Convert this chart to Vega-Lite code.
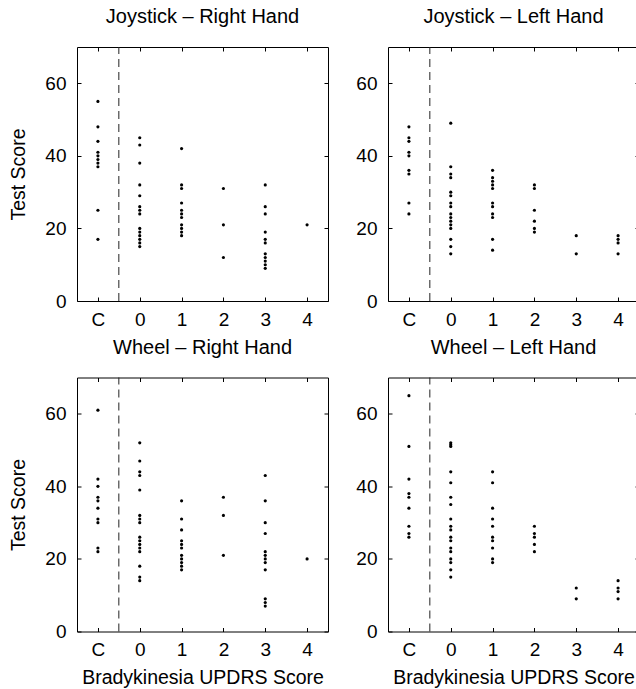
{
  "$schema": "https://vega.github.io/schema/vega-lite/v6.json",
  "padding": {"left": 8, "top": 6, "right": 0, "bottom": 0},
  "background": "white",
  "config": {
    "font": "Liberation Sans",
    "view": {"stroke": "black", "strokeWidth": 1},
    "axis": {"grid": false, "domain": false, "tickColor": "black", "tickSize": -4, "labelFontSize": 19, "labelColor": "black", "titleFontSize": 19.5, "titleFontWeight": "normal", "titleColor": "black"},
    "title": {"fontSize": 20, "fontWeight": "normal", "color": "black", "anchor": "middle", "baseline": "alphabetic", "offset": 19.5}
  },
  "datasets": {
    "scores": [
      {"p": "JR", "x": -1, "y": 55}, {"p": "JR", "x": -1, "y": 48}, {"p": "JR", "x": -1, "y": 44}, {"p": "JR", "x": -1, "y": 41}, {"p": "JR", "x": -1, "y": 40}, {"p": "JR", "x": -1, "y": 39}, {"p": "JR", "x": -1, "y": 38}, {"p": "JR", "x": -1, "y": 37}, {"p": "JR", "x": -1, "y": 25}, {"p": "JR", "x": -1, "y": 17},
      {"p": "JR", "x": 0, "y": 45}, {"p": "JR", "x": 0, "y": 43}, {"p": "JR", "x": 0, "y": 38}, {"p": "JR", "x": 0, "y": 32}, {"p": "JR", "x": 0, "y": 29}, {"p": "JR", "x": 0, "y": 26}, {"p": "JR", "x": 0, "y": 25}, {"p": "JR", "x": 0, "y": 24}, {"p": "JR", "x": 0, "y": 20}, {"p": "JR", "x": 0, "y": 19}, {"p": "JR", "x": 0, "y": 18}, {"p": "JR", "x": 0, "y": 17}, {"p": "JR", "x": 0, "y": 16}, {"p": "JR", "x": 0, "y": 15},
      {"p": "JR", "x": 1, "y": 42}, {"p": "JR", "x": 1, "y": 32}, {"p": "JR", "x": 1, "y": 31}, {"p": "JR", "x": 1, "y": 27}, {"p": "JR", "x": 1, "y": 25}, {"p": "JR", "x": 1, "y": 24}, {"p": "JR", "x": 1, "y": 23}, {"p": "JR", "x": 1, "y": 21}, {"p": "JR", "x": 1, "y": 20}, {"p": "JR", "x": 1, "y": 19}, {"p": "JR", "x": 1, "y": 18},
      {"p": "JR", "x": 2, "y": 31}, {"p": "JR", "x": 2, "y": 21}, {"p": "JR", "x": 2, "y": 12},
      {"p": "JR", "x": 3, "y": 32}, {"p": "JR", "x": 3, "y": 26}, {"p": "JR", "x": 3, "y": 24}, {"p": "JR", "x": 3, "y": 19}, {"p": "JR", "x": 3, "y": 17}, {"p": "JR", "x": 3, "y": 16}, {"p": "JR", "x": 3, "y": 13}, {"p": "JR", "x": 3, "y": 12}, {"p": "JR", "x": 3, "y": 11}, {"p": "JR", "x": 3, "y": 10}, {"p": "JR", "x": 3, "y": 9},
      {"p": "JR", "x": 4, "y": 21},
      {"p": "JL", "x": -1, "y": 48}, {"p": "JL", "x": -1, "y": 45}, {"p": "JL", "x": -1, "y": 44}, {"p": "JL", "x": -1, "y": 41}, {"p": "JL", "x": -1, "y": 40}, {"p": "JL", "x": -1, "y": 36}, {"p": "JL", "x": -1, "y": 35}, {"p": "JL", "x": -1, "y": 27}, {"p": "JL", "x": -1, "y": 24},
      {"p": "JL", "x": 0, "y": 49}, {"p": "JL", "x": 0, "y": 37}, {"p": "JL", "x": 0, "y": 35}, {"p": "JL", "x": 0, "y": 34}, {"p": "JL", "x": 0, "y": 30}, {"p": "JL", "x": 0, "y": 29}, {"p": "JL", "x": 0, "y": 27}, {"p": "JL", "x": 0, "y": 26}, {"p": "JL", "x": 0, "y": 24}, {"p": "JL", "x": 0, "y": 23}, {"p": "JL", "x": 0, "y": 22}, {"p": "JL", "x": 0, "y": 21}, {"p": "JL", "x": 0, "y": 20}, {"p": "JL", "x": 0, "y": 17}, {"p": "JL", "x": 0, "y": 15}, {"p": "JL", "x": 0, "y": 13},
      {"p": "JL", "x": 1, "y": 36}, {"p": "JL", "x": 1, "y": 34}, {"p": "JL", "x": 1, "y": 33}, {"p": "JL", "x": 1, "y": 32}, {"p": "JL", "x": 1, "y": 31}, {"p": "JL", "x": 1, "y": 27}, {"p": "JL", "x": 1, "y": 26}, {"p": "JL", "x": 1, "y": 24}, {"p": "JL", "x": 1, "y": 23}, {"p": "JL", "x": 1, "y": 17}, {"p": "JL", "x": 1, "y": 14},
      {"p": "JL", "x": 2, "y": 32}, {"p": "JL", "x": 2, "y": 31}, {"p": "JL", "x": 2, "y": 25}, {"p": "JL", "x": 2, "y": 22}, {"p": "JL", "x": 2, "y": 20}, {"p": "JL", "x": 2, "y": 19},
      {"p": "JL", "x": 3, "y": 18}, {"p": "JL", "x": 3, "y": 13},
      {"p": "JL", "x": 4, "y": 18}, {"p": "JL", "x": 4, "y": 17}, {"p": "JL", "x": 4, "y": 16}, {"p": "JL", "x": 4, "y": 13},
      {"p": "WR", "x": -1, "y": 61}, {"p": "WR", "x": -1, "y": 42}, {"p": "WR", "x": -1, "y": 40}, {"p": "WR", "x": -1, "y": 37}, {"p": "WR", "x": -1, "y": 36}, {"p": "WR", "x": -1, "y": 34}, {"p": "WR", "x": -1, "y": 31}, {"p": "WR", "x": -1, "y": 30}, {"p": "WR", "x": -1, "y": 23}, {"p": "WR", "x": -1, "y": 22},
      {"p": "WR", "x": 0, "y": 52}, {"p": "WR", "x": 0, "y": 47}, {"p": "WR", "x": 0, "y": 44}, {"p": "WR", "x": 0, "y": 43}, {"p": "WR", "x": 0, "y": 39}, {"p": "WR", "x": 0, "y": 32}, {"p": "WR", "x": 0, "y": 31}, {"p": "WR", "x": 0, "y": 30}, {"p": "WR", "x": 0, "y": 26}, {"p": "WR", "x": 0, "y": 25}, {"p": "WR", "x": 0, "y": 24}, {"p": "WR", "x": 0, "y": 23}, {"p": "WR", "x": 0, "y": 22}, {"p": "WR", "x": 0, "y": 18}, {"p": "WR", "x": 0, "y": 15}, {"p": "WR", "x": 0, "y": 14},
      {"p": "WR", "x": 1, "y": 36}, {"p": "WR", "x": 1, "y": 31}, {"p": "WR", "x": 1, "y": 28}, {"p": "WR", "x": 1, "y": 25}, {"p": "WR", "x": 1, "y": 24}, {"p": "WR", "x": 1, "y": 23}, {"p": "WR", "x": 1, "y": 21}, {"p": "WR", "x": 1, "y": 20}, {"p": "WR", "x": 1, "y": 19}, {"p": "WR", "x": 1, "y": 18}, {"p": "WR", "x": 1, "y": 17},
      {"p": "WR", "x": 2, "y": 37}, {"p": "WR", "x": 2, "y": 32}, {"p": "WR", "x": 2, "y": 21},
      {"p": "WR", "x": 3, "y": 43}, {"p": "WR", "x": 3, "y": 36}, {"p": "WR", "x": 3, "y": 30}, {"p": "WR", "x": 3, "y": 27}, {"p": "WR", "x": 3, "y": 22}, {"p": "WR", "x": 3, "y": 21}, {"p": "WR", "x": 3, "y": 20}, {"p": "WR", "x": 3, "y": 19}, {"p": "WR", "x": 3, "y": 17}, {"p": "WR", "x": 3, "y": 9}, {"p": "WR", "x": 3, "y": 8}, {"p": "WR", "x": 3, "y": 7},
      {"p": "WR", "x": 4, "y": 20},
      {"p": "WL", "x": -1, "y": 65}, {"p": "WL", "x": -1, "y": 51}, {"p": "WL", "x": -1, "y": 42}, {"p": "WL", "x": -1, "y": 38}, {"p": "WL", "x": -1, "y": 37}, {"p": "WL", "x": -1, "y": 34}, {"p": "WL", "x": -1, "y": 29}, {"p": "WL", "x": -1, "y": 27}, {"p": "WL", "x": -1, "y": 26},
      {"p": "WL", "x": 0, "y": 52}, {"p": "WL", "x": 0, "y": 51.5}, {"p": "WL", "x": 0, "y": 51}, {"p": "WL", "x": 0, "y": 44}, {"p": "WL", "x": 0, "y": 41}, {"p": "WL", "x": 0, "y": 37}, {"p": "WL", "x": 0, "y": 35}, {"p": "WL", "x": 0, "y": 31}, {"p": "WL", "x": 0, "y": 29}, {"p": "WL", "x": 0, "y": 28}, {"p": "WL", "x": 0, "y": 26}, {"p": "WL", "x": 0, "y": 25}, {"p": "WL", "x": 0, "y": 23}, {"p": "WL", "x": 0, "y": 22}, {"p": "WL", "x": 0, "y": 20}, {"p": "WL", "x": 0, "y": 19}, {"p": "WL", "x": 0, "y": 17}, {"p": "WL", "x": 0, "y": 15},
      {"p": "WL", "x": 1, "y": 44}, {"p": "WL", "x": 1, "y": 41}, {"p": "WL", "x": 1, "y": 34}, {"p": "WL", "x": 1, "y": 31}, {"p": "WL", "x": 1, "y": 29}, {"p": "WL", "x": 1, "y": 26}, {"p": "WL", "x": 1, "y": 25}, {"p": "WL", "x": 1, "y": 23}, {"p": "WL", "x": 1, "y": 20}, {"p": "WL", "x": 1, "y": 19},
      {"p": "WL", "x": 2, "y": 29}, {"p": "WL", "x": 2, "y": 27}, {"p": "WL", "x": 2, "y": 26}, {"p": "WL", "x": 2, "y": 24}, {"p": "WL", "x": 2, "y": 22},
      {"p": "WL", "x": 3, "y": 12}, {"p": "WL", "x": 3, "y": 9},
      {"p": "WL", "x": 4, "y": 14}, {"p": "WL", "x": 4, "y": 12}, {"p": "WL", "x": 4, "y": 11}, {"p": "WL", "x": 4, "y": 9}
    ]
  },
  "columns": 2,
  "bounds": "flush",
  "spacing": {"row": 76.5, "column": 60},
  "concat": [
    {
      "width": 251, "height": 254,
      "title": {"text": "Joystick – Right Hand"},
      "layer": [
        {"data": {"values": [{}]}, "mark": {"type": "rule", "strokeDash": [8, 5], "color": "#222222", "strokeWidth": 1},
         "encoding": {
           "x": {"datum": -0.5, "type": "quantitative", "axis": {"orient": "top", "values": [-1, 0, 1, 2, 3, 4], "labels": false, "title": null}},
           "y": {"datum": 0, "type": "quantitative", "axis": {"orient": "right", "values": [0, 20, 40, 60], "labels": false, "title": null}},
           "y2": {"datum": 70}}},
        {"data": {"name": "scores"}, "transform": [{"filter": "datum.p == 'JR'"}],
         "mark": {"type": "point", "filled": true, "size": 10, "color": "black", "opacity": 1},
         "encoding": {
           "x": {"field": "x", "type": "quantitative", "scale": {"domain": [-1.5, 4.5], "nice": false, "zero": false}, "axis": {"orient": "bottom", "values": [-1, 0, 1, 2, 3, 4], "labelExpr": "datum.value == -1 ? 'C' : datum.label", "labelPadding": 13, "title": null}},
           "y": {"field": "y", "type": "quantitative", "scale": {"domain": [0, 70], "nice": false}, "axis": {"orient": "left", "values": [0, 20, 40, 60], "labelPadding": 15, "title": "Test Score", "titlePadding": 16}}}}
      ],
      "resolve": {"axis": {"x": "independent", "y": "independent"}}
    },
    {
      "width": 251, "height": 254,
      "title": {"text": "Joystick – Left Hand"},
      "layer": [
        {"data": {"values": [{}]}, "mark": {"type": "rule", "strokeDash": [8, 5], "color": "#222222", "strokeWidth": 1},
         "encoding": {
           "x": {"datum": -0.5, "type": "quantitative", "axis": {"orient": "top", "values": [-1, 0, 1, 2, 3, 4], "labels": false, "title": null}},
           "y": {"datum": 0, "type": "quantitative", "axis": {"orient": "right", "values": [0, 20, 40, 60], "labels": false, "title": null}},
           "y2": {"datum": 70}}},
        {"data": {"name": "scores"}, "transform": [{"filter": "datum.p == 'JL'"}],
         "mark": {"type": "point", "filled": true, "size": 10, "color": "black", "opacity": 1},
         "encoding": {
           "x": {"field": "x", "type": "quantitative", "scale": {"domain": [-1.5, 4.5], "nice": false, "zero": false}, "axis": {"orient": "bottom", "values": [-1, 0, 1, 2, 3, 4], "labelExpr": "datum.value == -1 ? 'C' : datum.label", "labelPadding": 13, "title": null}},
           "y": {"field": "y", "type": "quantitative", "scale": {"domain": [0, 70], "nice": false}, "axis": {"orient": "left", "values": [0, 20, 40, 60], "labelPadding": 15, "title": null}}}}
      ],
      "resolve": {"axis": {"x": "independent", "y": "independent"}}
    },
    {
      "width": 251, "height": 254,
      "title": {"text": "Wheel – Right Hand"},
      "layer": [
        {"data": {"values": [{}]}, "mark": {"type": "rule", "strokeDash": [8, 5], "color": "#222222", "strokeWidth": 1},
         "encoding": {
           "x": {"datum": -0.5, "type": "quantitative", "axis": {"orient": "top", "values": [-1, 0, 1, 2, 3, 4], "labels": false, "title": null}},
           "y": {"datum": 0, "type": "quantitative", "axis": {"orient": "right", "values": [0, 20, 40, 60], "labels": false, "title": null}},
           "y2": {"datum": 70}}},
        {"data": {"name": "scores"}, "transform": [{"filter": "datum.p == 'WR'"}],
         "mark": {"type": "point", "filled": true, "size": 10, "color": "black", "opacity": 1},
         "encoding": {
           "x": {"field": "x", "type": "quantitative", "scale": {"domain": [-1.5, 4.5], "nice": false, "zero": false}, "axis": {"orient": "bottom", "values": [-1, 0, 1, 2, 3, 4], "labelExpr": "datum.value == -1 ? 'C' : datum.label", "labelPadding": 13, "title": "Bradykinesia UPDRS Score", "titlePadding": 9}},
           "y": {"field": "y", "type": "quantitative", "scale": {"domain": [0, 70], "nice": false}, "axis": {"orient": "left", "values": [0, 20, 40, 60], "labelPadding": 15, "title": "Test Score", "titlePadding": 16}}}}
      ],
      "resolve": {"axis": {"x": "independent", "y": "independent"}}
    },
    {
      "width": 251, "height": 254,
      "title": {"text": "Wheel – Left Hand"},
      "layer": [
        {"data": {"values": [{}]}, "mark": {"type": "rule", "strokeDash": [8, 5], "color": "#222222", "strokeWidth": 1},
         "encoding": {
           "x": {"datum": -0.5, "type": "quantitative", "axis": {"orient": "top", "values": [-1, 0, 1, 2, 3, 4], "labels": false, "title": null}},
           "y": {"datum": 0, "type": "quantitative", "axis": {"orient": "right", "values": [0, 20, 40, 60], "labels": false, "title": null}},
           "y2": {"datum": 70}}},
        {"data": {"name": "scores"}, "transform": [{"filter": "datum.p == 'WL'"}],
         "mark": {"type": "point", "filled": true, "size": 10, "color": "black", "opacity": 1},
         "encoding": {
           "x": {"field": "x", "type": "quantitative", "scale": {"domain": [-1.5, 4.5], "nice": false, "zero": false}, "axis": {"orient": "bottom", "values": [-1, 0, 1, 2, 3, 4], "labelExpr": "datum.value == -1 ? 'C' : datum.label", "labelPadding": 13, "title": "Bradykinesia UPDRS Score", "titlePadding": 9}},
           "y": {"field": "y", "type": "quantitative", "scale": {"domain": [0, 70], "nice": false}, "axis": {"orient": "left", "values": [0, 20, 40, 60], "labelPadding": 15, "title": null}}}}
      ],
      "resolve": {"axis": {"x": "independent", "y": "independent"}}
    }
  ]
}
